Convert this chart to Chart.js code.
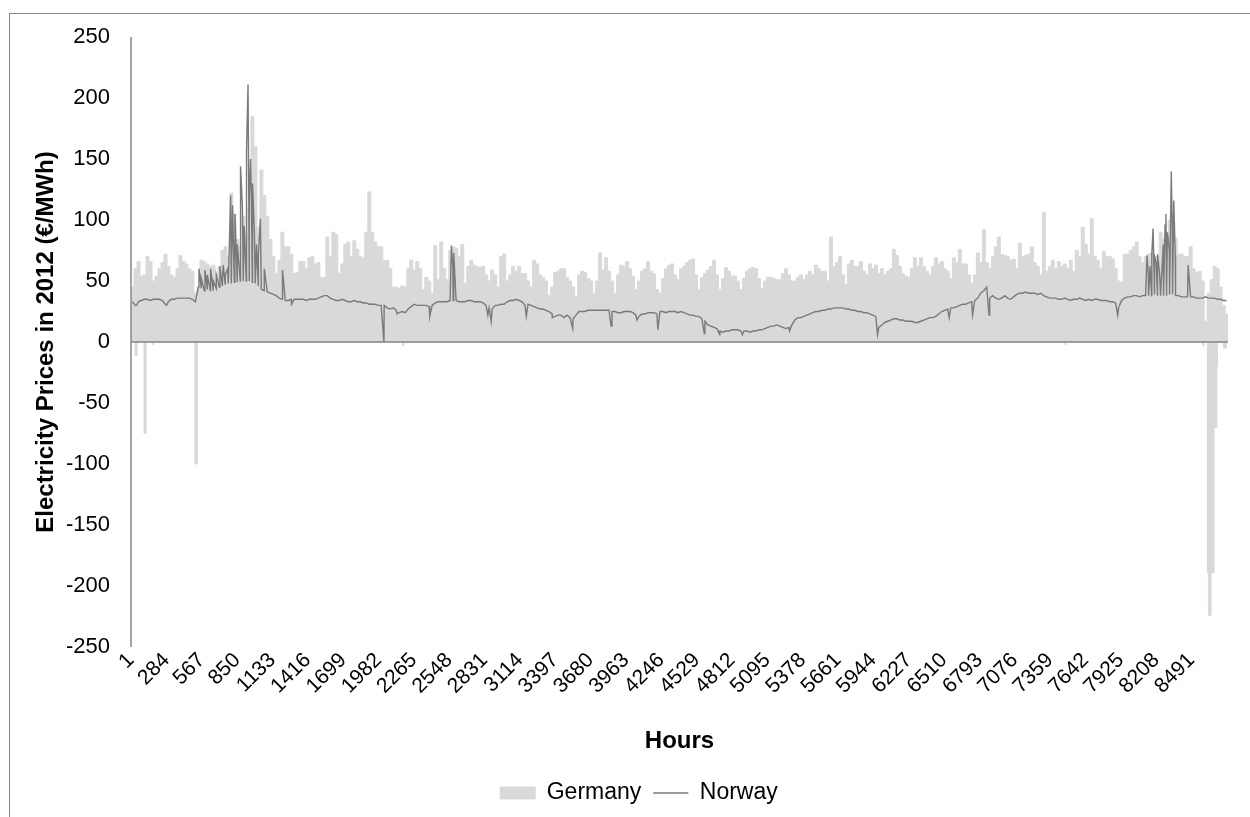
<!DOCTYPE html>
<html>
<head>
<meta charset="utf-8">
<script src="https://cdn.jsdelivr.net/npm/chart.js@4.4.1/dist/chart.umd.min.js"></script>
<style>
  html, body { margin: 0; padding: 0; background: #fff; }
  #wrap { position: relative; width: 1250px; height: 817px; overflow: hidden; }
  #frame { position: absolute; left: 9px; top: 13px; width: 1260px; height: 820px;
           border-top: 1px solid #868686; border-left: 1px solid #868686; }
  #c { position: absolute; left: 0; top: 0; width: 1250px; height: 817px; }
</style>
</head>
<body>
<div id="wrap">
  <div id="frame"></div>
  <canvas id="c" width="1250" height="817"></canvas>
</div>
<script>
// ---------------- data ----------------
const hourTicks = [1, 284, 567, 850, 1133, 1416, 1699, 1982, 2265, 2548, 2831, 3114, 3397, 3680,
  3963, 4246, 4529, 4812, 5095, 5378, 5661, 5944, 6227, 6510, 6793, 7076, 7359, 7642, 7925, 8208, 8491];
const priceTicks = [-250, -200, -150, -100, -50, 0, 50, 100, 150, 200, 250];
const hoursInYear = 8784;

// Germany: highest price of each day (day 0 = 1 Jan 2012), €/MWh
const germanyDaily = [
  45, 60, 66, 54, 55, 70, 66, 50, 54, 60,
  65, 72, 62, 55, 53, 60, 71, 66, 64, 60,
  58, 40, 45, 67, 66, 64, 62, 63, 56, 62,
  75, 78, 70, 122, 105, 84, 78, 103, 90, 110,
  185, 160, 94, 141, 120, 103, 84, 70, 56, 67,
  90, 78, 78, 72, 56, 57, 66, 66, 60, 69,
  70, 64, 65, 53, 53, 86, 70, 90, 88, 56,
  64, 80, 82, 70, 83, 76, 70, 69, 90, 123,
  90, 82, 78, 78, 67, 67, 60, 45, 45, 44,
  46, 45, 60, 67, 59, 66, 60, 43, 53, 50,
  40, 79, 51, 82, 60, 51, 75, 78, 77, 70,
  80, 48, 62, 67, 63, 62, 61, 62, 55, 50,
  59, 55, 45, 70, 72, 50, 55, 62, 58, 62,
  56, 56, 50, 45, 67, 64, 55, 53, 50, 38,
  45, 57, 58, 60, 60, 53, 50, 45, 37, 55,
  58, 57, 52, 50, 40, 50, 73, 59, 69, 58,
  50, 40, 55, 63, 62, 66, 60, 54, 43, 50,
  58, 60, 66, 58, 56, 43, 40, 52, 60, 63,
  64, 55, 51, 60, 62, 65, 67, 68, 55, 43,
  53, 56, 59, 62, 67, 55, 43, 52, 61, 58,
  54, 54, 50, 43, 52, 58, 60, 61, 60, 52,
  44, 50, 53, 53, 52, 51, 51, 56, 60, 55,
  50, 50, 53, 55, 51, 55, 58, 55, 63, 60,
  58, 58, 50, 86, 62, 65, 70, 55, 47, 64,
  67, 62, 62, 66, 58, 55, 64, 60, 63, 56,
  60, 55, 58, 60, 76, 71, 62, 56, 54, 53,
  60, 69, 62, 69, 62, 58, 55, 62, 69, 64,
  66, 60, 58, 52, 69, 65, 76, 64, 64, 55,
  48, 55, 73, 65, 92, 65, 60, 70, 78, 86,
  72, 71, 70, 67, 68, 60, 81, 70, 71, 72,
  78, 65, 62, 55, 106, 58, 62, 67, 60, 66,
  62, 64, 60, 67, 58, 75, 70, 94, 80, 72,
  101, 70, 67, 60, 74, 70, 70, 68, 60, 50,
  49, 72, 72, 75, 78, 82, 70, 65, 70, 72,
  73, 70, 70, 90, 85, 80, 100, 90, 85, 72,
  72, 70, 70, 78, 60, 57, 58, 50, 17, 40,
  51, 62, 60, 45, 30, 23
];

// Germany: hours with negative prices (value holds from that hour to the next entry)
const germanyNegHours  = [34, 50, 105, 121, 175, 181, 513, 532, 2176, 2186, 7478, 7486,
  8582, 8592, 8619, 8627, 8649, 8673, 8695, 8700, 8746, 8770];
const germanyNegValues = [-11, 0, -75, 0, -2, 0, -100, 0, -3, 0, -2, 0,
  -3, 0, -189, -224, -189, -70, -20, 0, -5, 0];

// Norway: typical price of each day, €/MWh
const norwayDaily = [
  33, 30, 33, 34, 35, 35, 34, 35, 35, 35,
  34, 31, 33, 35, 35, 36, 36, 36, 36, 36,
  35, 33, 45, 44, 42, 43, 42, 42, 44, 45,
  46, 47, 48, 48, 49, 49, 50, 50, 50, 50,
  49, 48, 46, 43, 42, 41, 40, 39, 38, 36,
  35, 34, 34, 35, 35, 35, 35, 35, 34, 35,
  35, 35, 36, 37, 38, 38, 36, 35, 34, 34,
  35, 34, 33, 33, 34, 33, 33, 32, 32, 31,
  31, 31, 30, 30, 30, 28, 27, 28, 26, 24,
  25, 24, 27, 29, 31, 30, 30, 30, 30, 29,
  30, 32, 33, 33, 33, 33, 34, 34, 34, 33,
  33, 33, 34, 34, 33, 33, 33, 32, 30, 28,
  27, 30, 30, 31, 31, 33, 34, 34, 35, 34,
  33, 30, 31, 30, 29, 28, 27, 27, 26, 25,
  23, 21, 22, 22, 20, 22, 20, 19, 22, 25,
  25, 25, 26, 26, 26, 26, 26, 26, 26, 26,
  25, 25, 24, 24, 25, 25, 25, 24, 22, 21,
  23, 23, 24, 24, 24, 23, 25, 25, 24, 25,
  25, 25, 24, 25, 24, 23, 22, 22, 21, 21,
  19, 17, 14, 13, 12, 11, 9, 8, 9, 9,
  10, 10, 10, 9, 9, 9, 8, 9, 9, 10,
  10, 11, 12, 13, 13, 14, 13, 12, 11, 12,
  14, 18, 20, 20, 21, 22, 23, 24, 25, 25,
  26, 26, 27, 27, 28, 28, 28, 28, 27, 27,
  26, 26, 25, 25, 24, 24, 23, 22, 21, 12,
  14, 16, 17, 18, 19, 19, 18, 18, 17, 17,
  17, 16, 16, 17, 18, 19, 20, 20, 21, 23,
  25, 26, 27, 28, 28, 29, 30, 31, 31, 32,
  33, 34, 36, 40, 42, 45, 36, 38, 36, 35,
  36, 38, 36, 35, 37, 39, 40, 40, 41, 40,
  40, 40, 39, 40, 38, 37, 36, 36, 36, 35,
  35, 36, 35, 34, 35, 35, 36, 35, 34, 35,
  34, 35, 35, 34, 34, 34, 33, 33, 32, 28,
  34, 36, 37, 37, 38, 38, 37, 38, 38, 38,
  38, 39, 38, 38, 38, 38, 39, 39, 38, 38,
  37, 37, 37, 37, 37, 36, 36, 36, 37, 36,
  36, 36, 35, 35, 34, 34
];

// Norway: single hours that stand out from the daily level (spikes and dips)
const norwaySpikeHours = [46, 286, 545, 564, 593, 612, 638, 660, 684, 713, 739, 756, 775,
  799, 814, 833, 852, 878, 893, 907, 926, 938, 948, 958, 967, 974, 989, 1006, 1020, 1037, 1068,
  1214, 1286, 2026, 2131, 2393, 2566, 2578, 2585,
  2858, 2885, 3166, 3374, 3538, 3845, 4051, 4219, 4591, 4714, 4896, 5273, 5978, 6552, 6739, 6871, 7901,
  8136, 8146, 8160, 8174, 8184, 8196, 8208, 8220, 8237,
  8266, 8280, 8287, 8299, 8314, 8330, 8338, 8350, 8362, 8465];
const norwaySpikeValues = [30, 30, 60, 52, 59, 55, 60, 50, 55, 62, 63, 55, 60,
  120, 112, 105, 80, 144, 110, 95, 157, 211, 120, 150, 100, 130, 90, 80, 70, 101, 60,
  59, 31, 0, 23, 21, 79, 60, 73,
  22, 17, 21, 20, 11, 13, 18, 10, 7, 6, 6, 9, 6, 20, 22, 22, 22,
  71, 55, 62, 72, 93, 70, 65, 72, 55,
  80, 96, 105, 90, 75, 140, 90, 116, 70, 63];

// ---------------- build library data ----------------
const germanyPoints = germanyDaily.map((v, d) => ({ x: 1 + 24 * d, y: v }));
germanyPoints.push({ x: hoursInYear, y: germanyDaily[germanyDaily.length - 1] });

const germanyNegPoints = [{ x: 1, y: 0 }];
germanyNegHours.forEach((h, i) => germanyNegPoints.push({ x: h, y: germanyNegValues[i] }));
germanyNegPoints.push({ x: hoursInYear, y: 0 });

const norwayPoints = norwayDaily.map((v, d) => ({ x: 12 + 24 * d, y: v }));
norwaySpikeHours.forEach((h, i) => norwayPoints.push({ x: h, y: norwaySpikeValues[i] }));
norwayPoints.sort((a, b) => a.x - b.x);

// ---------------- chart ----------------
const FAMILY = "'Liberation Sans', Arial, Helvetica, sans-serif";
Chart.defaults.font.family = FAMILY;
Chart.defaults.color = '#000000';

const axisLines = {
  id: 'axisLines',
  afterDatasetsDraw(chart) {
    const { ctx, chartArea: a, scales: { y } } = chart;
    const y0 = y.getPixelForValue(0);
    ctx.save();
    ctx.strokeStyle = '#868686';
    ctx.lineWidth = 1.5;
    ctx.beginPath();
    ctx.moveTo(a.left, y0);
    ctx.lineTo(a.right, y0);
    ctx.moveTo(a.left, a.top);
    ctx.lineTo(a.left, a.bottom);
    ctx.stroke();
    ctx.restore();
  }
};

// moves the centred legend row to where the reference has it
const legendShift = {
  id: 'legendShift',
  afterLayout(chart) {
    const lg = chart.legend;
    if (lg) { lg.left += 25; lg.right += 25; }
  }
};

new Chart(document.getElementById('c'), {
  type: 'line',
  data: {
    datasets: [
      {
        label: 'Germany',
        data: germanyPoints,
        stepped: true,
        fill: 'origin',
        backgroundColor: '#d9d9d9',
        borderColor: '#d9d9d9',
        borderWidth: 1,
        pointRadius: 0,
        pointHitRadius: 0,
        pointStyle: 'rect',
        order: 2
      },
      {
        label: 'Germany negative',
        data: germanyNegPoints,
        stepped: true,
        fill: 'origin',
        backgroundColor: '#d9d9d9',
        borderColor: '#d9d9d9',
        borderWidth: 1,
        pointRadius: 0,
        pointHitRadius: 0,
        pointStyle: 'rect',
        order: 3
      },
      {
        label: 'Norway',
        data: norwayPoints,
        fill: false,
        borderColor: '#7a7a7a',
        backgroundColor: '#7a7a7a',
        borderWidth: 1.4,
        tension: 0,
        pointRadius: 0,
        pointHitRadius: 0,
        pointStyle: 'line',
        order: 1
      }
    ]
  },
  options: {
    responsive: false,
    animation: false,
    events: [],
    layout: { padding: { top: 37, right: 22, bottom: 2.5, left: 0 } },
    plugins: {
      legend: {
        position: 'bottom',
        labels: {
          usePointStyle: true,
          pointStyleWidth: 35,
          boxHeight: 12,
          padding: 12,
          color: '#000',
          font: { family: FAMILY, size: 23 },
          sort: (a, b) => a.datasetIndex - b.datasetIndex,
          filter: (item) => item.datasetIndex !== 1
        }
      },
      tooltip: { enabled: false }
    },
    scales: {
      x: {
        type: 'linear',
        min: 1,
        max: hoursInYear,
        afterBuildTicks: (s) => { s.ticks = hourTicks.map(v => ({ value: v })); },
        afterFit: (s) => { s.height = 122.5; },
        ticks: {
          autoSkip: false,
          minRotation: 45,
          maxRotation: 45,
          padding: 1,
          color: '#000',
          font: { family: FAMILY, size: 21 },
          callback: (v) => String(v)
        },
        grid: { display: false, drawTicks: false },
        border: { display: false },
        title: {
          display: true,
          text: 'Hours',
          color: '#000',
          font: { family: FAMILY, size: 24, weight: 'bold' },
          padding: { top: 0, bottom: 14 }
        }
      },
      y: {
        min: -250,
        max: 250,
        afterBuildTicks: (s) => { s.ticks = priceTicks.map(v => ({ value: v })); },
        afterFit: (s) => { s.width = 131; },
        ticks: {
          padding: 21,
          color: '#000',
          font: { family: FAMILY, size: 22 },
          callback: (v) => String(v)
        },
        grid: { display: false, drawTicks: false },
        border: { display: false },
        title: {
          display: true,
          text: 'Electricity Prices in 2012 (€/MWh)',
          color: '#000',
          font: { family: FAMILY, size: 24, weight: 'bold' },
          padding: { top: 31.5, bottom: 0 }
        }
      }
    }
  },
  plugins: [axisLines, legendShift]
});
</script>
</body>
</html>
